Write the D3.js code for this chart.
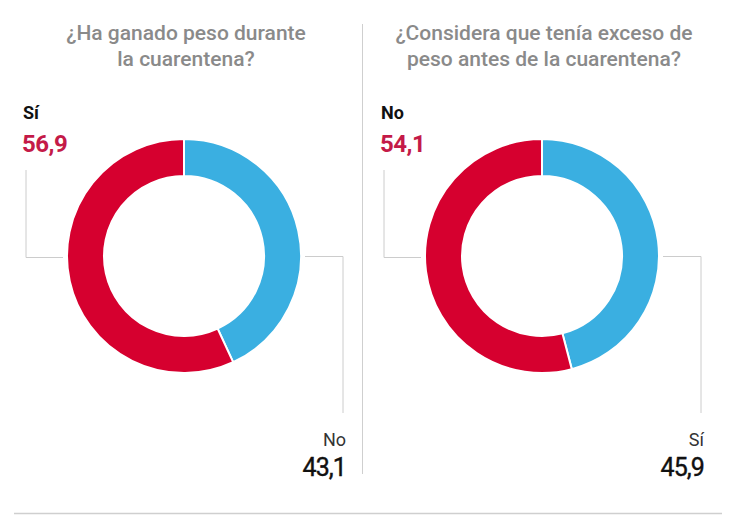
<!DOCTYPE html>
<html>
<head>
<meta charset="utf-8">
<script src="https://cdn.jsdelivr.net/npm/d3@7"></script>
<style>
  html, body { margin: 0; padding: 0; background: #fff; }
  svg { display: block; font-family: Roboto, "Noto Sans", sans-serif; }
</style>
</head>
<body>
<svg id="chart" width="736" height="524"></svg>
<script>
// Data
const titles = [
  ["¿Ha ganado peso durante", "la cuarentena?"],
  ["¿Considera que tenía exceso de", "peso antes de la cuarentena?"]
];
const blueLabels = ["No", "Sí"];
const blueValues = [43.1, 45.9];
const redLabels = ["Sí", "No"];
const redValues = [56.9, 54.1];

const svg = d3.select("#chart");
const colorBlue = "#3aafe1";
const colorRed = "#d6002f";
const centersX = [184, 542];
const cy = 256;
const outerR = 117, innerR = 80;

const pie = d3.pie().sort(null).value(d => d.value);
const arc = d3.arc().innerRadius(innerR).outerRadius(outerR);
const fmt = v => d3.format(".1f")(v).replace(".", ",");

// dividers
svg.append("line").attr("x1", 362.5).attr("x2", 362.5).attr("y1", 24).attr("y2", 474)
  .attr("stroke", "#cfcfcf").attr("stroke-width", 1);
svg.append("line").attr("x1", 14).attr("x2", 722).attr("y1", 513.5).attr("y2", 513.5)
  .attr("stroke", "#cfcfcf").attr("stroke-width", 1.5);

titles.forEach((t, i) => {
  const cx = centersX[i];
  const g = svg.append("g");
  const tt = g.append("text").attr("text-anchor", "middle").attr("fill", "#8a8a8a")
    .attr("font-size", 21).attr("font-weight", 500);
  t.forEach((line, j) => {
    tt.append("tspan").attr("x", cx + 2).attr("y", 40 + j * 26).text(line);
  });

  const data = [
    { key: blueLabels[i], value: blueValues[i], color: colorBlue },
    { key: redLabels[i], value: redValues[i], color: colorRed }
  ];
  const dg = g.append("g").attr("transform", `translate(${cx},${cy})`);
  dg.selectAll("path").data(pie(data)).join("path")
    .attr("d", arc)
    .attr("fill", d => d.data.color)
    .attr("stroke", "#fff").attr("stroke-width", 2);

  // red label (top-left)
  const lx = cx - 161;
  g.append("text").attr("x", lx).attr("y", 119).attr("font-size", 18)
    .attr("font-weight", 700).attr("fill", "#111").text(redLabels[i]);
  g.append("text").attr("x", lx - 1).attr("y", 152).attr("font-size", 24)
    .attr("font-weight", 700).attr("fill", "#c41a48").attr("letter-spacing", -0.5)
    .text(fmt(redValues[i]));
  g.append("polyline")
    .attr("points", `${lx + 3},170 ${lx + 3},257.5 ${cx - outerR - 4},257.5`)
    .attr("fill", "none").attr("stroke", "#cccccc").attr("stroke-width", 1);

  // blue label (bottom-right)
  const rx = cx + 161;
  g.append("polyline")
    .attr("points", `${cx + outerR + 4},256.5 ${rx - 2},256.5 ${rx - 2},413`)
    .attr("fill", "none").attr("stroke", "#cccccc").attr("stroke-width", 1);
  g.append("text").attr("x", rx + 1).attr("y", 446).attr("text-anchor", "end")
    .attr("font-size", 18).attr("fill", "#333").text(blueLabels[i]);
  g.append("text").attr("x", rx + 1).attr("y", 476).attr("text-anchor", "end")
    .attr("font-size", 25).attr("font-weight", 400).attr("fill", "#111")
    .attr("stroke", "#111").attr("stroke-width", 0.4).attr("letter-spacing", -0.9)
    .text(fmt(blueValues[i]));
});
</script>
</body>
</html>
